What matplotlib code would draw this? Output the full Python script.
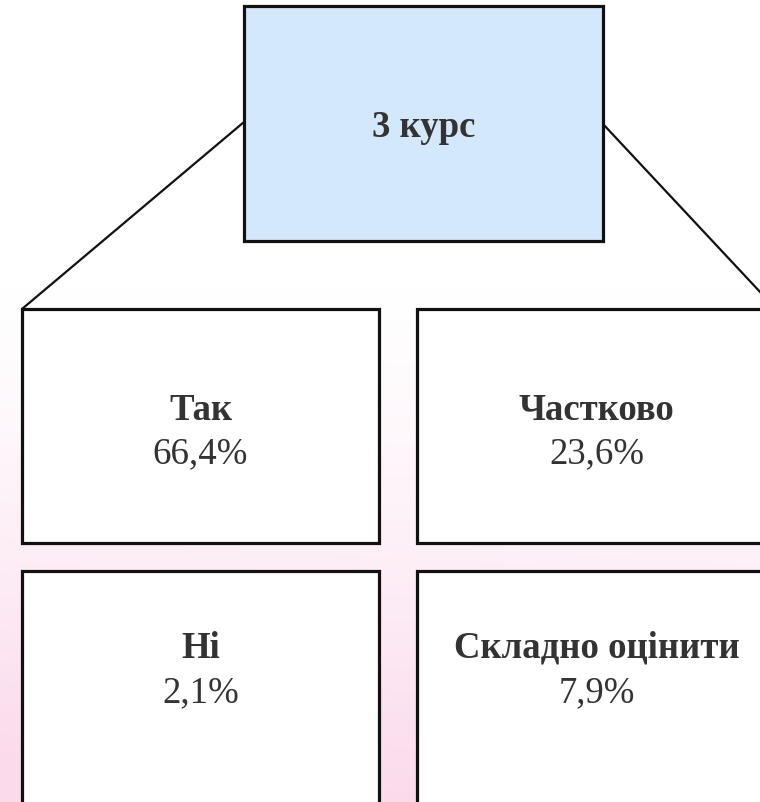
#!/usr/bin/env python3
"""Tree diagram: survey answers for 3rd-year students."""

import matplotlib
matplotlib.use('Agg')
import matplotlib.pyplot as plt
import matplotlib.patches as mpatches
import numpy as np

plt.rcParams.update({
    'font.family': ['Liberation Serif', 'DejaVu Serif'],
    'figure.dpi': 100,
})

# data
root_label = '3 курс'
categories = ['Так', 'Частково', 'Ні', 'Складно оцінити']
shares = [66.4, 23.6, 2.1, 7.9]

W, H = 760, 803
text_color = '#333333'
edge = '#111111'
fs = 26.5

fig = plt.figure(figsize=(W / 100, H / 100))
ax = fig.add_axes([0, 0, 1, 1])
ax.set_xlim(0, W)
ax.set_ylim(H, 0)
ax.axis('off')

# background: white at the top fading to pale pink at the bottom
yy, xx = np.mgrid[0:H:2, 0:W:2]
t = np.clip((yy - 290) / 510, 0, 1) ** 1.3
t = np.clip(t * (1.1 - 0.2 * xx / W), 0, 1)
pink = np.array([251, 218, 236]) / 255
white = np.ones(3)
img = white + (pink - white) * t[..., None]
ax.imshow(img, extent=(0, W, H, 0), aspect='auto', zorder=0, interpolation='bilinear')

# root box
root = dict(x0=244, y0=7, x1=603, y1=242)
ax.add_patch(mpatches.Rectangle((root['x0'], root['y0']), root['x1'] - root['x0'],
                                root['y1'] - root['y0'], facecolor='#D4E8FC',
                                edgecolor=edge, linewidth=2.3, zorder=3))
ax.text((root['x0'] + root['x1']) / 2, 137, root_label, ha='center', va='baseline',
        fontsize=fs, fontweight='bold', color=text_color, zorder=4)

# child boxes (2 x 2 grid)
cols = [(22, 379), (417, 776)]
rows = [(310, 544), (572, 806)]
baselines = [(420, 463), (658, 702)]

# connectors from root to outer corners
ax.plot([root['x0'], cols[0][0]], [123, rows[0][0]], color=edge, lw=1.6, zorder=2,
        solid_capstyle='round')
ax.plot([root['x1'], cols[1][1]], [125, rows[0][0]], color=edge, lw=1.6, zorder=2,
        solid_capstyle='round')

for i, (cat, val) in enumerate(zip(categories, shares)):
    r, c = divmod(i, 2)
    x0, x1 = cols[c]
    y0, y1 = rows[r]
    ax.add_patch(mpatches.Rectangle((x0, y0), x1 - x0, y1 - y0, facecolor='white',
                                    edgecolor=edge, linewidth=2.3, zorder=3))
    cx = (x0 + x1) / 2
    ax.text(cx, baselines[r][0], cat, ha='center', va='baseline', fontsize=fs,
            fontweight='bold', color=text_color, zorder=4)
    ax.text(cx, baselines[r][1], f'{val:.1f}%'.replace('.', ','), ha='center',
            va='baseline', fontsize=fs, color=text_color, zorder=4)

plt.savefig('out.png', dpi=100)
plt.close()
